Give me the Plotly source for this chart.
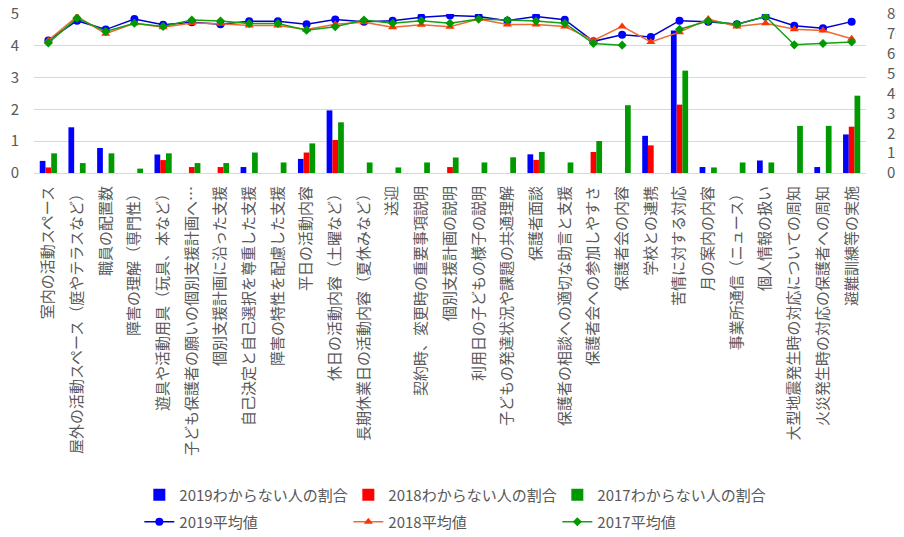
import plotly.graph_objects as go

categories = [
    "室内の活動スペース",
    "屋外の活動スペース（庭やテラスなど）",
    "職員の配置数",
    "障害の理解（専門性）",
    "遊具や活動用具（玩具、本など）",
    "子ども保護者の願いの個別支援計画へ…",
    "個別支援計画に沿った支援",
    "自己決定と自己選択を尊重した支援",
    "障害の特性を配慮した支援",
    "平日の活動内容",
    "休日の活動内容（土曜など）",
    "長期休業日の活動内容（夏休みなど）",
    "送迎",
    "契約時、変更時の重要事項説明",
    "個別支援計画の説明",
    "利用日の子どもの様子の説明",
    "子どもの発達状況や課題の共通理解",
    "保護者面談",
    "保護者の相談への適切な助言と支援",
    "保護者会への参加しやすさ",
    "保護者会の内容",
    "学校との連携",
    "苦情に対する対応",
    "月の案内の内容",
    "事業所通信（ニュース）",
    "個人情報の扱い",
    "大型地震発生時の対応についての周知",
    "火災発生時の対応の保護者への周知",
    "避難訓練等の実施",
]

# わからない人の割合 (%), right axis
unknown_2019 = [6.1, 23.0, 12.6, 0, 9.3, 0, 0, 3.0, 0, 7.1, 31.5, 0, 0, 0, 0,
                0, 0, 9.4, 0, 0, 0, 18.7, 71.7, 3.0, 0, 6.3, 0, 3.0, 19.4]
unknown_2018 = [2.8, 0, 0, 0, 6.5, 3.0, 3.0, 0, 0, 10.3, 16.6, 0, 0, 0, 3.0,
                0, 0, 6.6, 0, 10.6, 0, 13.9, 34.4, 0, 0, 0, 0, 0, 23.3]
unknown_2017 = [9.9, 5.0, 9.9, 2.2, 9.9, 5.0, 5.0, 10.3, 5.3, 14.9, 25.5, 5.3, 2.8, 5.3, 7.8,
                5.3, 7.9, 10.6, 5.3, 16.1, 34.1, 0, 51.5, 2.8, 5.3, 5.3, 23.7, 23.7, 38.9]

# 平均値, left axis
avg_2019 = [4.17, 4.79, 4.51, 4.84, 4.66, 4.74, 4.68, 4.77, 4.77, 4.68, 4.83, 4.76, 4.79, 4.90, 4.95,
            4.92, 4.79, 4.92, 4.82, 4.14, 4.35, 4.28, 4.79, 4.76, 4.68, 4.92, 4.63, 4.55, 4.76]
avg_2018 = [4.17, 4.92, 4.38, 4.71, 4.58, 4.72, 4.69, 4.64, 4.64, 4.51, 4.68, 4.74, 4.58, 4.66, 4.60,
            4.84, 4.67, 4.67, 4.61, 4.17, 4.61, 4.12, 4.43, 4.84, 4.61, 4.71, 4.52, 4.48, 4.22]
avg_2017 = [4.09, 4.87, 4.45, 4.71, 4.61, 4.81, 4.78, 4.70, 4.70, 4.49, 4.60, 4.81, 4.71, 4.79, 4.71,
            4.84, 4.81, 4.78, 4.71, 4.07, 4.02, None, 4.52, 4.78, 4.68, 4.92, 4.03, 4.07, 4.12]

FONT = "Noto Sans CJK JP"
GRAY = "#595959"

fig = go.Figure()
bar_specs = [
    ("2019わからない人の割合", unknown_2019, "#0000FF"),
    ("2018わからない人の割合", unknown_2018, "#FF0000"),
    ("2017わからない人の割合", unknown_2017, "#009A00"),
]
for name, vals, col in bar_specs:
    fig.add_trace(go.Bar(x=categories, y=vals, name=name, marker_color=col,
                         marker_line_width=0, yaxis="y", legend="legend"))

line_specs = [
    ("2019平均値", avg_2019, "#0000CC", "#0000FF", "circle", 8),
    ("2018平均値", avg_2018, "#ED6A31", "#FF3300", "triangle-up", 8),
    ("2017平均値", avg_2017, "#13A113", "#009A00", "diamond", 7),
]
for name, vals, lc, mc, sym, sz in line_specs:
    fig.add_trace(go.Scatter(x=categories, y=vals, name=name, mode="lines+markers",
                             line=dict(color=lc, width=1.5),
                             marker=dict(color=mc, symbol=sym, size=sz),
                             connectgaps=False, yaxis="y2", legend="legend2"))

legend_common = dict(orientation="h", x=0.1266, xanchor="left", yref="container",
                     yanchor="middle", entrywidth=164, tracegroupgap=0,
                     font=dict(size=15, color=GRAY, family=FONT), traceorder="normal",
                     bgcolor="rgba(0,0,0,0)")

# page body has an 8px default margin, so the figure is sized to fit the window
fig.update_layout(
    width=896, height=529,
    margin=dict(l=26, r=38, t=6, b=364),
    paper_bgcolor="white", plot_bgcolor="white",
    font=dict(family=FONT, color=GRAY, size=13),
    barmode="group", bargap=0.4, bargroupgap=0,
    xaxis=dict(type="category", tickangle=-90, range=[-0.5, len(categories) - 0.5],
               tickfont=dict(size=15, color=GRAY, family=FONT),
               showline=True, linecolor="#D9D9D9", ticks="", automargin=False,
               showgrid=False, ticklabelstandoff=6),
    yaxis=dict(side="right", range=[0, 80], dtick=10, showgrid=False, zeroline=False,
               tickfont=dict(size=15, color=GRAY), ticklabelstandoff=20, automargin=False,
               ticklabeloverflow="allow"),
    yaxis2=dict(side="left", overlaying="y", range=[0, 5], dtick=1, showgrid=True,
                gridcolor="#D9D9D9", zeroline=False,
                tickfont=dict(size=15, color=GRAY), ticklabelstandoff=14, automargin=False,
                ticklabeloverflow="allow"),
    legend=dict(y=0.0794, **legend_common),
    legend2=dict(y=0.0284, **legend_common),
)

fig.write_html("out.html")
